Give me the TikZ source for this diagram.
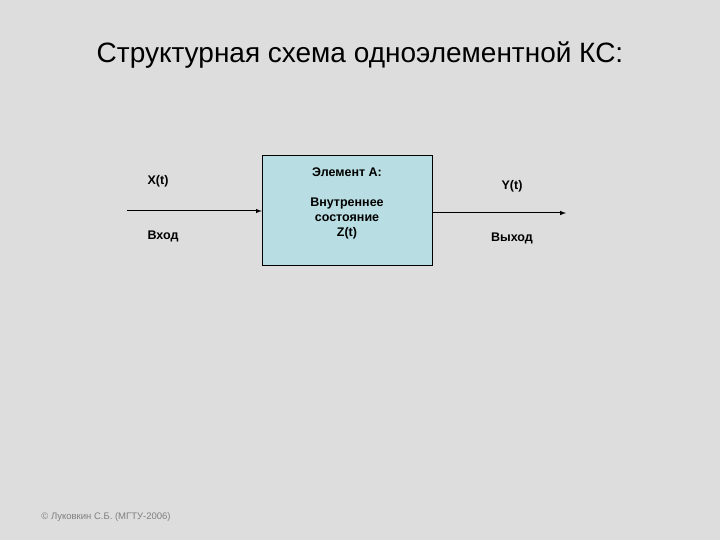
\documentclass[tikz,border=0pt]{standalone}
\usepackage{fontspec}
\setmainfont{Liberation Sans}
\begin{document}
\begin{tikzpicture}[x=1pt,y=-1pt,
  lbl/.style={font=\fontsize{12.5}{15}\selectfont\bfseries,align=center},
  arr/.style={-latex,line width=1pt}]
\fill[fill={rgb,255:red,221;green,221;blue,221}] (0,0) rectangle (720,540);
\useasboundingbox (0,0) rectangle (720,540);
\node (title) at (360,55) {\fontsize{28}{32}\selectfont Структурная схема одноэлементной КС:};
\node[draw,fill={rgb,255:red,184;green,221;blue,226},minimum width=170pt,minimum height=110pt,inner sep=0] (box) at (347,210) {};
\node[lbl] (ea) at (347,172) {Элемент А:};
\node[lbl] (z) at (347,218) {Внутреннее\\состояние\\Z(t)};
\coordinate (in) at (127,211);
\coordinate (out) at (566,213);
\draw[arr] (in) -- (in -| box.west);
\draw[arr] (out -| box.east) -- (out);
\node[lbl] (x) at (158,181) {X(t)};
\node[lbl] (vx) at (163,236) {Вход};
\node[lbl] (y) at (512,186) {Y(t)};
\node[lbl] (vy) at (512,238) {Выход};
\node[font=\fontsize{9.5}{11}\selectfont,text=gray] (c) at (106,517) {© Луковкин С.Б. (МГТУ-2006)};
\end{tikzpicture}
\end{document}
